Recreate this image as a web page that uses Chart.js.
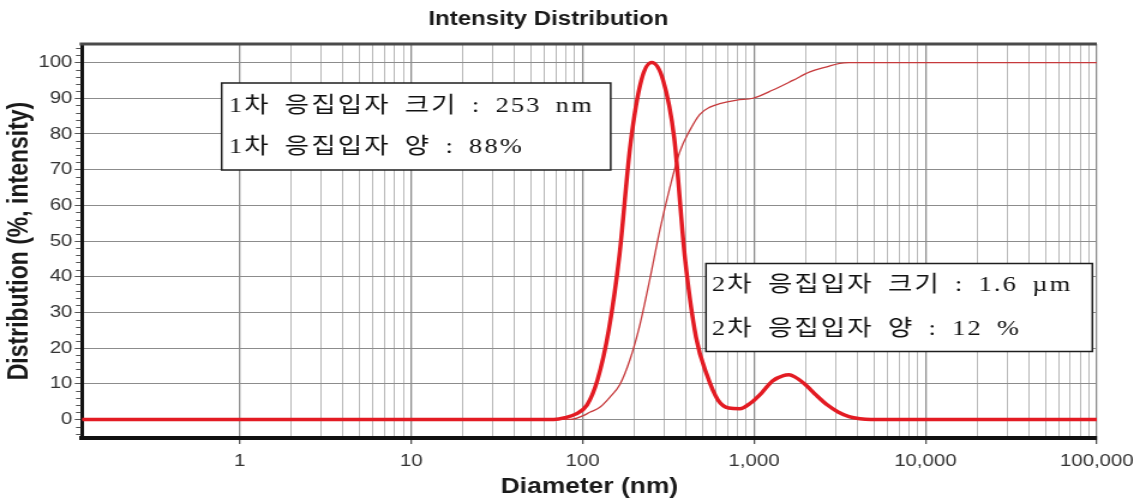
<!DOCTYPE html>
<html>
<head>
<meta charset="utf-8">
<script src="https://cdn.jsdelivr.net/npm/chart.js@4.4.1/dist/chart.umd.min.js"></script>
<style>
  html, body { margin: 0; padding: 0; background: #fff; overflow: hidden; }
  /* chart is laid out narrow and stretched sideways to the page width */
  #wrap { width: 952px; height: 501px; transform: scaleX(1.2); transform-origin: 0 0; }
</style>
</head>
<body>
<div id="wrap"><canvas id="psd" width="952" height="501"></canvas></div>
<script>
// DLS intensity distribution: frequency curve + cumulative curve
var SIZE_NM = [0.12, 68, 79, 91, 106, 122, 142, 164, 190, 220, 253, 295, 342, 396, 459, 531, 615, 712, 825, 955, 1106, 1281, 1484, 1600, 1718, 1990, 2305, 2670, 3092, 3581, 4148, 4804, 100000];
var INTENSITY = [0, 0, 0.5, 1.5, 4, 11, 25, 46, 77, 95, 100, 95, 79, 45, 23, 12.5, 5.5, 3.2, 3, 4.6, 7.4, 10.8, 12.3, 12.5, 12, 9.8, 6.8, 4.1, 2.1, 0.8, 0.2, 0, 0];

var CUM_SIZE_NM = [0.12, 85, 100, 110, 126, 144, 165, 189, 216, 246, 282, 323, 369, 422, 483, 553, 631, 794, 984, 1288, 1684, 2117, 2660, 3165, 3581, 100000];
var CUMULATIVE = [0, 0, 1, 2, 3.4, 6.2, 9.8, 16.8, 26.6, 39, 53, 65, 75, 81, 85.5, 87.5, 88.5, 89.5, 90, 92.3, 95, 97.4, 98.8, 99.8, 100, 100];

var X_DECADES = [1, 10, 100, 1000, 10000, 100000];
var X_LABELS = ["1", "10", "100", "1,000", "10,000", "100,000"];
var Y_TICKS = [0, 10, 20, 30, 40, 50, 60, 70, 80, 90, 100];

var NOTE_1 = ["1차 응집입자 크기 : 253 nm", "1차 응집입자 양 : 88%"];
var NOTE_2 = ["2차 응집입자 크기 : 1.6 µm", "2차 응집입자 양 : 12 %"];

var RED = "#e31b23", RED_THIN = "#c63a3c";

Chart.defaults.font.family = "'Liberation Sans', Arial, sans-serif";

function isDecade(v) { return X_DECADES.indexOf(v) >= 0; }

// log ticks 1..9 per decade, labels only on the decades
var xTicks = [];
for (var i = 0; i < X_DECADES.length - 1; i++)
  for (var m = 1; m <= 9; m++) xTicks.push({ value: X_DECADES[i] * m });
xTicks.push({ value: X_DECADES[X_DECADES.length - 1] });

function pts(xs, ys) { return xs.map(function (x, i) { return { x: x, y: ys[i] }; }); }

// note boxes, in canvas units
var BOXES = [
  { x: 184.7, y: 83, w: 324.2, h: 87, tx: 6, ty: [23, 64], lines: NOTE_1 },
  { x: 588.3, y: 263.5, w: 322, h: 88, tx: 5, ty: [21.5, 65.5], lines: NOTE_2 }
];

var extras = {
  id: "extras",
  afterDraw: function (chart) {
    var ctx = chart.ctx, a = chart.chartArea, ys = chart.scales.y;
    ctx.save();
    // minor ticks every 2 %
    ctx.strokeStyle = "#555"; ctx.lineWidth = 1;
    for (var v = -4; v <= 104; v += 2) {
      if (v % 10 === 0) continue;
      var py = Math.round(ys.getPixelForValue(v)) + 0.5;
      ctx.beginPath(); ctx.moveTo(a.left - 5, py); ctx.lineTo(a.left - 1, py); ctx.stroke();
    }
    // top frame
    ctx.strokeStyle = "#4a4a4a"; ctx.lineWidth = 3;
    ctx.beginPath(); ctx.moveTo(a.left - 2, a.top); ctx.lineTo(a.right, a.top); ctx.stroke();

    BOXES.forEach(function (b) {
      ctx.fillStyle = "#fff"; ctx.fillRect(b.x, b.y, b.w, b.h);
      ctx.strokeStyle = "#1e1e1e"; ctx.lineWidth = 1.5; ctx.strokeRect(b.x, b.y, b.w, b.h);
      ctx.font = "22px 'Liberation Serif', 'Noto Sans CJK KR'";
      ctx.letterSpacing = "1.8px";
      ctx.wordSpacing = "4.5px";
      ctx.textBaseline = "middle"; ctx.textAlign = "left";
      ctx.fillStyle = "#111";
      b.lines.forEach(function (t, j) { ctx.fillText(t, b.x + b.tx, b.y + b.ty[j]); });
    });
    ctx.restore();
  }
};

new Chart(document.getElementById("psd"), {
  type: "line",
  data: {
    datasets: [
      { data: pts(SIZE_NM, INTENSITY), borderColor: RED, borderWidth: 3.5, pointRadius: 0, cubicInterpolationMode: "monotone", fill: false },
      { data: pts(CUM_SIZE_NM, CUMULATIVE), borderColor: RED_THIN, borderWidth: 1.3, pointRadius: 0, cubicInterpolationMode: "monotone", fill: false }
    ]
  },
  options: {
    responsive: false, animation: false,
    layout: { padding: { left: 0, right: 38, top: 0, bottom: 0 } },
    plugins: {
      legend: { display: false }, tooltip: { enabled: false },
      title: {
        display: true, text: "Intensity Distribution", color: "#1a1a1a",
        font: { size: 20, weight: "bold", lineHeight: 1.2 },
        padding: { top: 7, bottom: 13 }
      }
    },
    scales: {
      x: {
        type: "logarithmic", min: 0.12, max: 100000,
        afterBuildTicks: function (s) { s.ticks = xTicks.slice(); },
        afterFit: function (s) { s.height = 63; },
        grid: {
          color: function (c) { return c.tick && isDecade(c.tick.value) ? "#8e8e8e" : "#b8b8b8"; },
          lineWidth: function (c) { return c.tick && isDecade(c.tick.value) ? 1.3 : 1; },
          tickColor: function (c) { return c.tick && isDecade(c.tick.value) ? "#555" : "rgba(0,0,0,0)"; },
          tickLength: 6
        },
        border: { display: true, color: "#111", width: 4 },
        ticks: {
          autoSkip: false, maxRotation: 0, padding: 7, color: "#333", font: { size: 17 },
          callback: function (v) { var k = X_DECADES.indexOf(v); return k >= 0 ? X_LABELS[k] : ""; }
        },
        title: { display: true, text: "Diameter (nm)", color: "#1a1a1a", font: { size: 22, weight: "bold", lineHeight: 1.2 }, padding: { top: 0, bottom: 1 } }
      },
      y: {
        type: "linear", min: -5.2, max: 105.2,
        afterBuildTicks: function (s) { s.ticks = Y_TICKS.map(function (v) { return { value: v }; }); },
        afterFit: function (s) { s.width = 68.3; },
        grid: { color: "#8c8c8c", lineWidth: 1, tickColor: "#555", tickLength: 6 },
        border: { display: true, color: "#111", width: 3 },
        ticks: { padding: 2, color: "#333", font: { size: 17 } },
        title: { display: true, text: "Distribution (%, intensity)", color: "#1a1a1a", font: { size: 23, weight: "bold", lineHeight: 1.2 }, padding: { top: 3, bottom: 0 } }
      }
    }
  },
  plugins: [extras]
});
</script>
</body>
</html>
